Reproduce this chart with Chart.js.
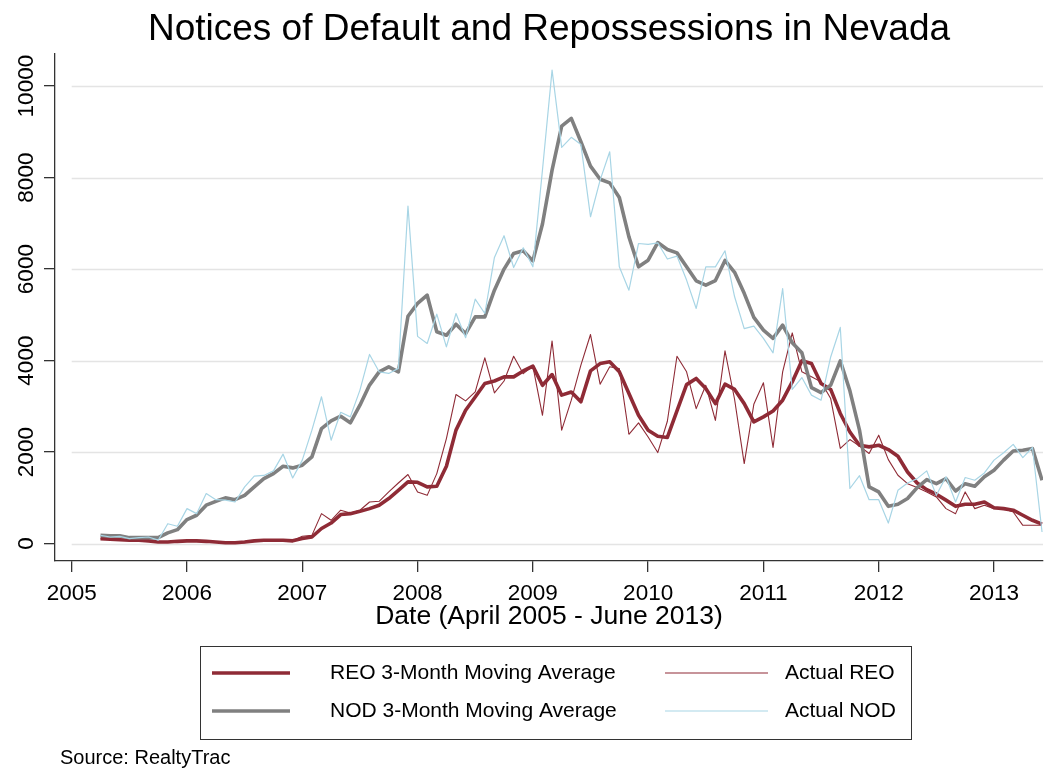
<!DOCTYPE html>
<html>
<head>
<meta charset="utf-8">
<script src="https://cdn.jsdelivr.net/npm/chart.js@4/dist/chart.umd.min.js"></script>
<style>
    html, body {margin: 0; padding: 0; background: #fff;}
    #chart {display: block;}
</style>
</head>
<body>
<canvas id="chart" width="1047" height="770"></canvas>
<script>
// monthly data, April 2005 .. June 2013
const firstYear = 2005;
const firstMonth = 4;

const reoMovingAvg = [
    110, 95, 85, 75, 75, 60, 35, 35, 50, 60, 60, 50, 35, 20, 20, 35, 60, 75, 75, 75,
    60, 110, 145, 330, 450, 635, 655, 705, 765, 840, 985, 1165, 1350, 1340, 1240, 1255, 1690, 2480, 2915, 3205,
    3500, 3555, 3645, 3645, 3775, 3880, 3460, 3695, 3245, 3315, 3100, 3775, 3935, 3975, 3755, 3280, 2805, 2480, 2345, 2320,
    2900, 3475, 3610, 3390, 3060, 3485, 3370, 3060, 2660, 2770, 2900, 3135, 3535, 3995, 3935, 3500, 3370, 2845, 2440, 2150,
    2115, 2150, 2055, 1910, 1565, 1325, 1180, 1080, 950, 815, 860, 860, 910, 785, 765, 730, 620, 510, 425
];

const reoActual = [
    110, 85, 85, 75, 75, 60, 35, 35, 50, 50, 60, 50, 35, 20, 20, 20, 60, 75, 75, 75,
    60, 160, 180, 655, 510, 730, 670, 730, 910, 925, 1130, 1325, 1510, 1130, 1055, 1530, 2295, 3260, 3120, 3315,
    4060, 3295, 3555, 4095, 3715, 3880, 2805, 4430, 2480, 3135, 3900, 4570, 3485, 3865, 3825, 2390, 2640, 2330, 1990, 2675,
    4095, 3755, 2950, 3460, 2695, 4215, 3150, 1750, 3045, 3515, 2100, 3755, 4605, 3755, 3645, 3535, 3170, 2080, 2275, 2130,
    1970, 2370, 1835, 1495, 1310, 1225, 1130, 1020, 765, 655, 1130, 765, 840, 765, 765, 690, 400, 400, 400
];

const nodMovingAvg = [
    180, 170, 170, 130, 130, 130, 130, 235, 305, 525, 620, 840, 925, 1000, 960, 1055, 1240, 1420, 1530, 1690,
    1655, 1715, 1895, 2515, 2685, 2785, 2640, 3025, 3465, 3755, 3865, 3755, 4970, 5250, 5430, 4630, 4555, 4795, 4590, 4955,
    4955, 5540, 6000, 6340, 6400, 6180, 6985, 8165, 9125, 9295, 8785, 8250, 7965, 7885, 7565, 6705, 6050, 6195, 6580, 6430,
    6355, 6050, 5745, 5650, 5750, 6190, 5930, 5470, 4945, 4665, 4485, 4775, 4390, 4170, 3410, 3300, 3465, 3995, 3340, 2480,
    1240, 1130, 815, 860, 985, 1225, 1400, 1310, 1420, 1150, 1310, 1255, 1460, 1605, 1825, 2025, 2040, 2080, 1385
];

const nodActual = [
    180, 145, 160, 110, 130, 145, 75, 435, 380, 765, 655, 1095, 960, 950, 910, 1240, 1475, 1490, 1590, 1955,
    1435, 1825, 2480, 3210, 2260, 2870, 2770, 3355, 4135, 3755, 3720, 3830, 7380, 4530, 4375, 5015, 4300, 5030, 4500, 5345,
    5030, 6255, 6730, 6035, 6465, 6050, 8165, 10350, 8660, 8880, 8725, 7145, 7945, 8565, 6050, 5540, 6560, 6540, 6575, 6220,
    6285, 5760, 5140, 6050, 6050, 6400, 5395, 4700, 4755, 4485, 4170, 5575, 3370, 3630, 3245, 3135, 4080, 4725, 1205, 1485,
    960, 960, 450, 1165, 1325, 1420, 1590, 1055, 1460, 910, 1445, 1385, 1545, 1825, 1985, 2170, 1880, 2100, 255
];

const yearTicks = [2005, 2006, 2007, 2008, 2009, 2010, 2011, 2012, 2013];
const valueTicks = [0, 2000, 4000, 6000, 8000, 10000];

const seriesNames = ["REO 3-Month Moving Average", "Actual REO", "NOD 3-Month Moving Average", "Actual NOD"];

// month position as decimal year
let labels = reoActual.map((v, i) => firstYear + (firstMonth - 1 + i) / 12);

const fontFamily = "'Liberation Sans', Arial, Helvetica, sans-serif";
const red = "#8f2b36";
const gray = "#808080";
const lightBlue = "#a8d5e5";

let gridPlugin = {
    id: "stataGrid",
    beforeDatasetsDraw: (chart) => {
        const {ctx, chartArea: {right}, scales: {x, y}} = chart;
        const left = x.getPixelForValue(yearTicks[0]);
        ctx.save();
        ctx.strokeStyle = "#e4e4e4";
        ctx.lineWidth = 1.5;
        valueTicks.forEach(v => {
            const py = Math.round(y.getPixelForValue(v)) + 0.5;
            ctx.beginPath();
            ctx.moveTo(left, py);
            ctx.lineTo(right, py);
            ctx.stroke();
        });
        ctx.restore();
    }
}

let legendPlugin = {
    id: "boxLegend",
    afterDraw: (chart) => {
        const {ctx} = chart;
        const ds = chart.data.datasets;
        // legend order: row 1 = REO MA, Actual REO ; row 2 = NOD MA, Actual NOD
        const byName = name => ds.find(d => d.label === name);
        const cells = [
            {name: seriesNames[0], x1: 212, x2: 290, tx: 330, y: 673},
            {name: seriesNames[1], x1: 665, x2: 768, tx: 785, y: 673},
            {name: seriesNames[2], x1: 212, x2: 290, tx: 330, y: 711},
            {name: seriesNames[3], x1: 665, x2: 768, tx: 785, y: 711},
        ];
        ctx.save();
        ctx.strokeStyle = "#333";
        ctx.lineWidth = 1;
        ctx.strokeRect(200.5, 646.5, 711, 93);
        ctx.font = "21px " + fontFamily;
        ctx.textBaseline = "middle";
        ctx.textAlign = "left";
        cells.forEach(c => {
            const d = byName(c.name);
            ctx.strokeStyle = d.borderColor;
            ctx.lineWidth = d.borderWidth;
            ctx.beginPath();
            ctx.moveTo(c.x1, c.y);
            ctx.lineTo(c.x2, c.y);
            ctx.stroke();
            ctx.fillStyle = "#000";
            ctx.fillText(c.name, c.tx, c.y);
        });
        ctx.font = "20px " + fontFamily;
        ctx.fillText("Source: RealtyTrac", 60, 758);
        ctx.restore();
    }
}

function lineSet(label, data, color, width) {
    return {
        label: label,
        data: data,
        borderColor: color,
        backgroundColor: color,
        borderWidth: width,
        pointRadius: 0,
        tension: 0,
        fill: false,
        borderJoinStyle: "round",
    }
}

// first dataset is drawn on top, so list them back to front reversed
let data = {
    labels: labels,
    datasets: [
        lineSet(seriesNames[3], nodActual, lightBlue, 1.2),
        lineSet(seriesNames[2], nodMovingAvg, gray, 3.6),
        lineSet(seriesNames[1], reoActual, red, 1.1),
        lineSet(seriesNames[0], reoMovingAvg, red, 3.6),
    ]
}

let scalesOptions = {
    x: {
        type: "linear",
        min: 2004.855,
        max: 2013.425,
        afterBuildTicks: s => { s.ticks = yearTicks.map(v => ({value: v})); },
        afterFit: s => { s.height = 72; },
        grid: {drawOnChartArea: false, tickLength: 11, color: "#333", lineWidth: 1.3},
        border: {color: "#333", width: 1.3},
        ticks: {
            color: "#000",
            padding: 8,
            maxRotation: 0,
            font: {family: fontFamily, size: 22.5},
            callback: v => String(v),
        },
        title: {
            display: true,
            text: "Date (April 2005 - June 2013)",
            color: "#000",
            font: {family: fontFamily, size: 26.5},
            padding: 0,
        }
    },
    y: {
        type: "linear",
        min: -380,
        max: 10715,
        afterBuildTicks: s => { s.ticks = valueTicks.map(v => ({value: v})); },
        afterFit: s => { s.width = 55; },
        grid: {drawOnChartArea: false, tickLength: 11, color: "#333", lineWidth: 1.3},
        border: {color: "#333", width: 1.3},
        ticks: {
            color: "#000",
            minRotation: 90,
            maxRotation: 90,
            crossAlign: "center",
            padding: -14,
            font: {family: fontFamily, size: 22.5},
            callback: v => String(v),
        }
    }
}

let options = {
    responsive: false,
    animation: false,
    devicePixelRatio: 1,
    layout: {padding: {left: 0, right: 4, top: 0, bottom: 137}},
    plugins: {
        legend: {display: false},
        tooltip: {enabled: false},
        title: {
            display: true,
            text: "Notices of Default and Repossessions in Nevada",
            color: "#000",
            fullSize: false,
            font: {family: fontFamily, size: 37, weight: "normal"},
            padding: {top: 8, bottom: 1},
        }
    },
    scales: scalesOptions
}

new Chart(document.getElementById("chart"), {
    type: "line",
    data: data,
    options: options,
    plugins: [gridPlugin, legendPlugin]
});
</script>
</body>
</html>
